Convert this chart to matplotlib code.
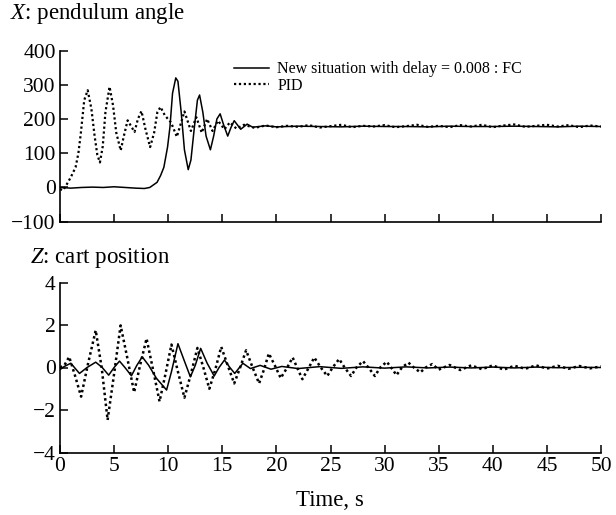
import matplotlib
matplotlib.use("Agg")
import matplotlib.pyplot as plt

plt.rcParams['font.family'] = ['Liberation Serif', 'DejaVu Serif']
plt.rcParams['mathtext.fontset'] = 'custom'
plt.rcParams['mathtext.rm'] = 'Liberation Serif'
plt.rcParams['mathtext.it'] = 'Liberation Serif:italic'

# ---- Top panel: pendulum angle ----
t_angle_pid = [0, 0.3, 0.64, 1.0, 1.44, 1.7, 1.92, 2.24, 2.56, 2.9, 3.2, 3.45, 3.69, 3.95, 4.2, 4.58,
               4.9, 5.2, 5.61, 5.9, 6.25, 6.55, 6.89, 7.2, 7.53, 7.9, 8.33, 8.7, 9.0, 9.29, 9.7,
               10.26, 10.8, 11.5, 12.1, 12.6, 13.1, 13.6, 14.1, 14.6, 15.2, 15.7, 16.3, 17.0,
               18, 19, 20, 21, 22, 23, 24, 25, 26, 27, 28, 29, 30, 31, 32, 33, 34, 35, 36, 37,
               38, 39, 40, 41, 42, 43, 44, 45, 46, 47, 48, 49, 50]
angle_pid = [-5, -8, 10, 30, 59, 100, 157, 255, 284, 230, 150, 95, 73, 120, 220, 294,
             240, 160, 108, 150, 196, 180, 162, 200, 223, 170, 118, 160, 220, 235, 210,
             190, 148, 222, 165, 205, 160, 200, 165, 195, 170, 190, 172, 183,
             174, 181, 176, 180, 177, 182, 175, 179, 183, 176, 180, 178, 182, 176, 179, 183,
             177, 180, 176, 182, 178, 183, 176, 181, 184, 177, 180, 183, 178, 182, 176, 181, 178]

t_angle_fc = [0, 1, 2, 3, 4, 5, 6, 7, 7.8, 8.3, 8.97, 9.3, 9.6, 9.94, 10.16, 10.4, 10.7, 10.9,
              11.2, 11.5, 11.85, 12.1, 12.4, 12.7, 12.9, 13.2, 13.5, 13.9, 14.2, 14.5, 14.8,
              15.1, 15.5, 15.8, 16.1, 16.7, 17.3, 17.8,
              19, 20, 22, 24, 26, 28, 30, 32, 34, 36, 38, 40, 42, 44, 46, 48, 50]
angle_fc = [0, -2, 0, 1, 0, 2, 0, -2, -3, 0, 15, 35, 59, 118, 176, 275, 320, 310,
            220, 110, 52, 80, 170, 255, 270, 220, 150, 110, 150, 200, 215,
            185, 150, 175, 195, 170, 185, 176,
            180, 177, 179, 178, 177, 179, 178, 178, 177, 179, 178, 178, 179, 178, 177, 179, 178]

# ---- Bottom panel: cart position ----
t_cart_pid = [0, 0.4, 0.85, 1.4, 1.95, 2.6, 3.3, 3.85, 4.4, 5.0, 5.6, 6.2, 6.85, 7.4, 8.0, 8.6,
              9.2, 9.75, 10.3, 10.9, 11.5, 12.1, 12.7, 13.25, 13.8, 14.35, 14.9, 15.5, 16.1,
              16.65, 17.2, 17.8, 18.4, 18.85, 19.3, 19.85, 20.4, 21.0, 21.5, 22.0, 22.4, 23.0,
              23.5, 24.1, 24.7, 25.2, 25.8, 26.3, 26.9, 27.4, 28.0, 28.5, 29.1, 29.6, 30.2,
              30.6, 31.1, 31.6, 32.2, 32.7, 33.3, 33.8, 34.4, 35, 36, 37, 38, 39, 40, 41, 42,
              43, 44, 45, 46, 47, 48, 49, 50]
cart_pid = [0, 0.1, 0.5, -0.4, -1.37, 0.2, 1.75, 0.0, -2.47, -0.3, 1.98, 0.5, -1.17, 0.1, 1.36,
            -0.1, -1.6, -0.3, 1.08, -0.2, -1.42, -0.3, 0.92, 0.0, -1.0, -0.1, 0.97, 0.1, -0.75,
            0.0, 0.81, 0.0, -0.75, -0.1, 0.66, 0.1, -0.5, 0.0, 0.47, -0.1, -0.55, 0.0,
            0.47, 0.0, -0.4, 0.0, 0.4, 0.0, -0.4, 0.0, 0.3, 0.0, -0.4, 0.0, 0.27,
            0.0, -0.36, 0.0, 0.23, 0.0, -0.23, 0.0, 0.16, -0.1, 0.12, -0.12, 0.1, -0.08, 0.1,
            -0.1, 0.08, -0.06, 0.1, -0.05, 0.08, -0.06, 0.07, -0.04, 0.05]

t_cart_fc = [0, 0.4, 1.0, 1.8, 2.5, 3.3, 3.9, 4.5, 5.0, 5.5, 6.0, 6.6, 7.1, 7.6, 8.2, 8.9, 9.85,
             10.3, 10.9, 11.5, 12.05, 12.5, 13.0, 13.6, 14.25, 14.7, 15.2, 15.7, 16.15, 16.9,
             17.6, 18.5, 19.5, 20.5, 22, 24, 26, 28, 30, 32, 34, 36, 38, 40, 42, 44, 46, 48, 50]
cart_fc = [-0.1, 0.05, 0.2, -0.28, 0.0, 0.25, 0.0, -0.36, 0.0, 0.3, 0.0, -0.39, 0.1, 0.5, 0.1,
           -0.5, -1.06, -0.2, 1.12, 0.3, -0.44, 0.1, 0.9, 0.2, -0.4, 0.0, 0.35, 0.0, -0.28, 0.2,
           -0.05, 0.1, -0.08, 0.05, -0.05, 0.04, -0.04, 0.03, -0.03, 0.03, -0.02, 0.02, -0.02,
           0.02, -0.02, 0.02, -0.01, 0.01, 0.0]

x_ticks = [0, 5, 10, 15, 20, 25, 30, 35, 40, 45, 50]
angle_ticks = [-100, 0, 100, 200, 300, 400]
cart_ticks = [-4, -2, 0, 2, 4]

legend_labels = ["New situation with delay = 0.008 : FC", "PID"]

fig = plt.figure(figsize=(6.16, 5.15), dpi=100)
L, W = 60 / 616, (601 - 60) / 616
ax1 = fig.add_axes([L, 1 - 221.7 / 515, W, (221.7 - 50.5) / 515])
ax2 = fig.add_axes([L, 1 - 452.5 / 515, W, (452.5 - 282.5) / 515])

ax1.plot(t_angle_fc, angle_fc, color='black', lw=1.1, label=legend_labels[0])
ax1.plot(t_angle_pid, angle_pid, color='black', lw=1.6, linestyle=(0, (1, 1.2)), label=legend_labels[1])
ax2.plot(t_cart_fc, cart_fc, color='black', lw=1.1)
ax2.plot(t_cart_pid, cart_pid, color='black', lw=1.8, linestyle=(0, (1, 1.2)))

for ax, yt, ylim in [(ax1, angle_ticks, (-100, 400)), (ax2, cart_ticks, (-4, 4))]:
    ax.set_xlim(0, 50)
    ax.set_ylim(*ylim)
    ax.set_xticks(x_ticks)
    ax.set_yticks(yt)
    ax.spines['top'].set_visible(False)
    ax.spines['right'].set_visible(False)
    ax.spines['left'].set_linewidth(1.2)
    ax.spines['bottom'].set_linewidth(1.2)
    ax.tick_params(direction='in', length=6, width=1.1, labelsize=15.5, pad=3)

ax1.tick_params(axis='x', labelbottom=False)
ax2.set_xticklabels([str(v) for v in x_ticks])
ax1.set_yticklabels([f"\u2212{abs(v)}" if v < 0 else str(v) for v in angle_ticks])
ax2.set_yticklabels([f"\u2212{abs(v)}" if v < 0 else str(v) for v in cart_ticks])

ax1.legend(loc='upper left', bbox_to_anchor=(0.31, 0.975), frameon=False, fontsize=11.5,
           handlelength=2.2, handletextpad=0.5, labelspacing=0.05, borderaxespad=0.0)

fig.text(10 / 616, 1 - 13 / 515, r"$\mathit{X}$: pendulum angle", fontsize=16.5, va='center', ha='left')
fig.text(30 / 616, 1 - 258 / 515, r"$\mathit{Z}$: cart position", fontsize=16.5, va='center', ha='left')
fig.text(330 / 616, 1 - 500 / 515, "Time, s", fontsize=16.5, va='center', ha='center')

fig.savefig("out.png", dpi=100)
